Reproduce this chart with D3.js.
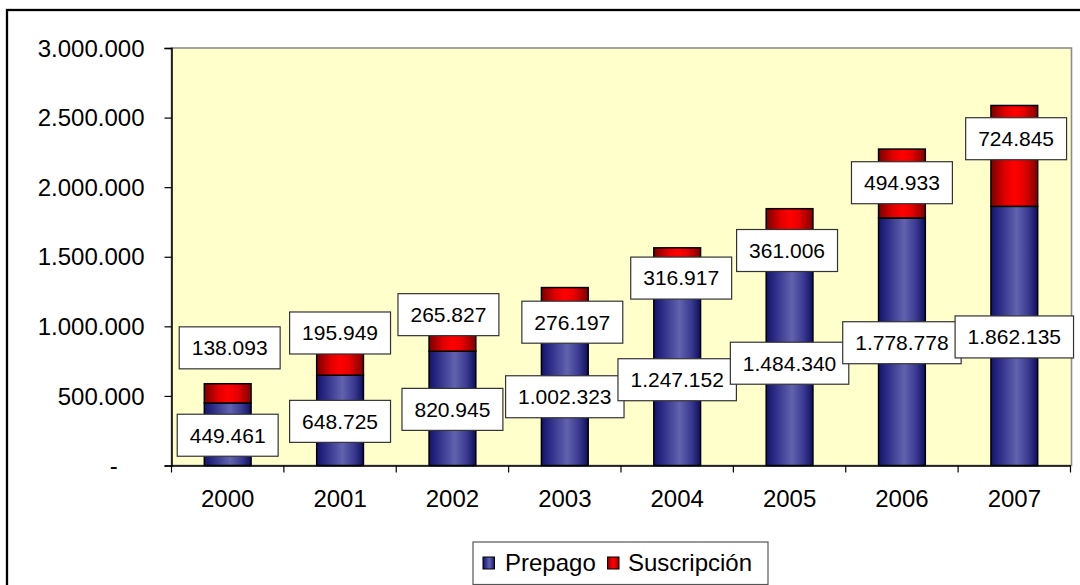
<!DOCTYPE html>
<html>
<head>
<meta charset="utf-8">
<script src="https://cdn.jsdelivr.net/npm/d3@7"></script>
<style>
  html, body { margin: 0; padding: 0; background: #fff; }
  svg { display: block; font-family: "Liberation Sans", Arial, sans-serif; }
</style>
</head>
<body>
<svg id="chart" width="1080" height="585"></svg>
<script>
// ---- data ----
const years = ["2000", "2001", "2002", "2003", "2004", "2005", "2006", "2007"];
const prepago = [449461, 648725, 820945, 1002323, 1247152, 1484340, 1778778, 1862135];
const suscripcion = [138093, 195949, 265827, 276197, 316917, 361006, 494933, 724845];
const seriesNames = ["Prepago", "Suscripción"];
const yTicks = [0, 500000, 1000000, 1500000, 2000000, 2500000, 3000000];

// ---- layout (label nudges from segment centre, px) ----
const suscNudgeX = [2, 0, -4, 7.5, 4, -2.5, 0, 1.8];
const suscNudgeY = [-45.5, -28.6, -18.1, 15.4, 8.2, 16.7, -0.8, -17.2];
const prepNudgeY = 1;

const svg = d3.select("#chart");
const plot = { left: 171.5, right: 1070.5, top: 48, bottom: 465.5 };

const loc = d3.formatLocale({ decimal: ",", thousands: ".", grouping: [3], currency: ["", ""] });
const fmt = loc.format(",.0f");

const x = d3.scaleBand().domain(years).range([plot.left, plot.right]).paddingInner(0.584).paddingOuter(0.292);
const y = d3.scaleLinear().domain([0, 3000000]).range([plot.bottom, plot.top]);

// gradients
const defs = svg.append("defs");
const gBlue = defs.append("linearGradient").attr("id", "gBlue").attr("x1", "0").attr("x2", "1").attr("y1", "0").attr("y2", "0");
[["0%", "#13136c"], ["20%", "#2e2e88"], ["55%", "#6262b0"], ["80%", "#3a3a90"], ["100%", "#0e0e62"]]
  .forEach(([o, c]) => gBlue.append("stop").attr("offset", o).attr("stop-color", c));
const gRed = defs.append("linearGradient").attr("id", "gRed").attr("x1", "0").attr("x2", "1").attr("y1", "0").attr("y2", "0");
[["0%", "#7a0000"], ["30%", "#e00000"], ["50%", "#ff0000"], ["70%", "#e80000"], ["100%", "#800000"]]
  .forEach(([o, c]) => gRed.append("stop").attr("offset", o).attr("stop-color", c));

// outer border
svg.append("rect").attr("x", 7).attr("y", 10).attr("width", 1100).attr("height", 620)
  .attr("fill", "#fff").attr("stroke", "#000").attr("stroke-width", 2.3);

// plot area
svg.append("rect").attr("x", plot.left).attr("y", plot.top)
  .attr("width", plot.right + 1 - plot.left).attr("height", plot.bottom - plot.top)
  .attr("fill", "#ffffcc").attr("stroke", "#8c8c8c").attr("stroke-width", 1.6);

// stacked data
const data = years.map((yr, i) => ({ year: yr, p: prepago[i], s: suscripcion[i], i }));
const stack = d3.stack().keys(["p", "s"])(data);
const fills = { p: "url(#gBlue)", s: "url(#gRed)" };

const bars = svg.append("g");
stack.forEach(layer => {
  bars.selectAll(null).data(layer).enter().append("rect")
    .attr("x", d => x(d.data.year))
    .attr("width", x.bandwidth())
    .attr("y", d => y(d[1]))
    .attr("height", d => y(d[0]) - y(d[1]))
    .attr("fill", fills[layer.key])
    .attr("stroke", "#000").attr("stroke-width", 1.5);
});

// axes
const yAxis = svg.append("g").attr("transform", `translate(${plot.left},0)`)
  .call(d3.axisLeft(y).tickValues(yTicks).tickSize(7).tickPadding(20)
    .tickFormat(v => v === 0 ? "-" : fmt(v)));
yAxis.select(".domain").attr("stroke", "#000").attr("stroke-width", 1.5);
yAxis.selectAll(".tick line").attr("stroke", "#000").attr("stroke-width", 1.2);
yAxis.selectAll(".tick text").attr("font-size", 24).attr("fill", "#000")
  .attr("font-family", "Liberation Sans, Arial, sans-serif")
  .attr("dx", v => v === 0 ? -26.7 : 0).attr("dy", "0.34em");

const xAxis = svg.append("g").attr("transform", `translate(0,${plot.bottom})`)
  .call(d3.axisBottom(x).tickSize(0).tickPadding(24));
xAxis.select(".domain").attr("stroke", "#000").attr("stroke-width", 1.5);
xAxis.selectAll(".tick text").attr("font-size", 24).attr("fill", "#000")
  .attr("font-family", "Liberation Sans, Arial, sans-serif");
// category boundary ticks
const step = x.step();
const bounds = d3.range(years.length + 1).map(k => plot.left + k * step);
xAxis.selectAll("line.bound").data(bounds).enter().append("line").attr("class", "bound")
  .attr("x1", d => d).attr("x2", d => d)
  .attr("y1", 0).attr("y2", 7).attr("stroke", "#000").attr("stroke-width", 1.2);

// value labels
const labels = svg.append("g").attr("font-size", 21).attr("fill", "#000");
function addLabel(cx, cy, txt) {
  const g = labels.append("g");
  const t = g.append("text").attr("x", cx).attr("y", cy).attr("text-anchor", "middle")
    .attr("dy", "0.35em").text(txt);
  const w = t.node().getComputedTextLength() + 25;
  g.insert("rect", "text").attr("x", cx - w / 2).attr("y", cy - 21).attr("width", w).attr("height", 42)
    .attr("fill", "#fff").attr("stroke", "#333").attr("stroke-width", 1.2);
}
stack[0].forEach((d, i) => {
  addLabel(x(d.data.year) + x.bandwidth() / 2, (y(d[0]) + y(d[1])) / 2 + prepNudgeY, fmt(d.data.p));
});
stack[1].forEach((d, i) => {
  addLabel(x(d.data.year) + x.bandwidth() / 2 + suscNudgeX[i], (y(d[0]) + y(d[1])) / 2 + suscNudgeY[i], fmt(d.data.s));
});

// legend
const lg = svg.append("g");
lg.append("rect").attr("x", 473).attr("y", 542).attr("width", 295).attr("height", 42.5)
  .attr("fill", "#fff").attr("stroke", "#555").attr("stroke-width", 1.2);
const legendItems = [
  { name: seriesNames[0], fill: "url(#gBlue)", sx: 483, tx: 505 },
  { name: seriesNames[1], fill: "url(#gRed)", sx: 607.5, tx: 628 }
];
legendItems.forEach(it => {
  lg.append("rect").attr("x", it.sx).attr("y", 557).attr("width", 11.5).attr("height", 12)
    .attr("fill", it.fill).attr("stroke", "#000").attr("stroke-width", 1);
  lg.append("text").attr("x", it.tx).attr("y", 571).attr("font-size", 24).attr("fill", "#000").text(it.name);
});
</script>
</body>
</html>
